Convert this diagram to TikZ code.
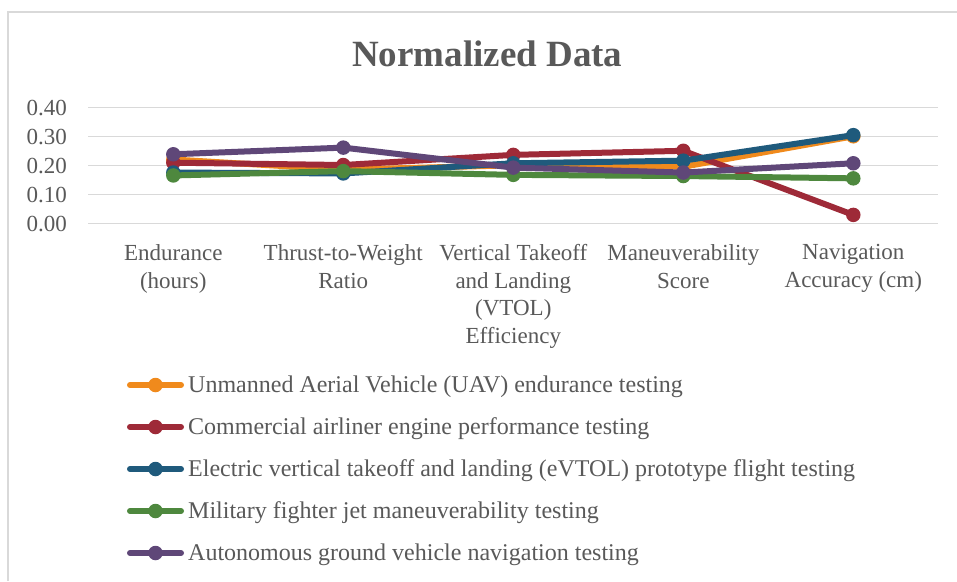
\documentclass[tikz,border=0pt]{standalone}
\usepackage{fontspec}
\setmainfont{Liberation Serif}
\definecolor{txt}{HTML}{595959}
\definecolor{gridc}{HTML}{D9D9D9}
\definecolor{cuav}{HTML}{F08A1C}
\definecolor{cair}{HTML}{9E2A38}
\definecolor{cevt}{HTML}{1F5A7C}
\definecolor{cmil}{HTML}{4E883E}
\definecolor{caut}{HTML}{5F4778}
\tikzset{
  series/.style={line width=6pt, line join=round},
  mk/.style={circle, inner sep=0pt, minimum size=14.5pt, fill=#1, draw=none},
  ticklab/.style={text=txt, anchor=base east, inner sep=0pt, font=\fontsize{23}{27.5}\selectfont},
  catlab/.style={text=txt, anchor=north, align=center, inner sep=0pt, font=\fontsize{23}{27.5}\selectfont},
  legtxt/.style={text=txt, anchor=base west, inner sep=0pt, font=\fontsize{24}{28}\selectfont},
  gridline/.style={draw=gridc, line width=1.3pt},
}
\begin{document}
\begin{tikzpicture}[x=1pt,y=-1pt]
\useasboundingbox (0,0) rectangle (957,581);
\fill[white] (0,0) rectangle (957,581);
% chart frame
\coordinate (fbl) at (8,581);
\coordinate (ftl) at (8,12);
\coordinate (ftr) at (957,12);
\draw[gridline] (fbl) -- (ftl) -- (ftr);
% title
\node[text=txt, anchor=base, inner sep=0pt, font=\fontsize{37}{40}\selectfont\bfseries] (title) at (487.2,66.7) {Normalized Data};
% grid and y labels
\foreach \v [count=\k] in {0.00,0.10,0.20,0.30,0.40} {
  \coordinate (gl\k) at (88,{223.3-290*\v});
  \coordinate (gr\k) at (938,{223.3-290*\v});
  \draw[gridline] (gl\k) -- (gr\k);
  \node[ticklab] (yl\k) at (67,{223.3-290*\v+7.8}) {\v};
}
% category labels
\node[catlab] (c1) at (173.3,244.5) {Endurance\\(hours)};
\node[catlab] (c2) at (343.3,244.5) {Thrust-to-Weight\\Ratio};
\node[catlab] (c3) at (513.3,244.5) {Vertical Takeoff\\and Landing\\(VTOL)\\Efficiency};
\node[catlab] (c4) at (683.3,244.5) {Maneuverability\\Score};
\node[catlab] (c5) at (853.3,244.5) {Navigation\\Accuracy (cm)};
% data points
\foreach \v [count=\i] in {0.22,0.185,0.20,0.195,0.30}
  \coordinate (u\i) at ({3.3+170*\i},{223.3-290*\v});
\foreach \v [count=\i] in {0.209,0.201,0.236,0.250,0.029}
  \coordinate (a\i) at ({3.3+170*\i},{223.3-290*\v});
\foreach \v [count=\i] in {0.175,0.172,0.207,0.216,0.304}
  \coordinate (e\i) at ({3.3+170*\i},{223.3-290*\v});
\foreach \v [count=\i] in {0.165,0.180,0.167,0.163,0.155}
  \coordinate (m\i) at ({3.3+170*\i},{223.3-290*\v});
\foreach \v [count=\i] in {0.238,0.261,0.192,0.175,0.207}
  \coordinate (g\i) at ({3.3+170*\i},{223.3-290*\v});
% series
\foreach \s/\c in {u/cuav,a/cair,e/cevt,m/cmil,g/caut} {
  \draw[series,\c] (\s1) -- (\s2) -- (\s3) -- (\s4) -- (\s5);
  \foreach \i in {1,...,5} \node[mk=\c] (mk\s\i) at (\s\i) {};
}
% legend
\foreach \t/\c [count=\r] in {
  {Unmanned Aerial Vehicle (UAV) endurance testing}/cuav,
  {Commercial airliner engine performance testing}/cair,
  {Electric vertical takeoff and landing (eVTOL) prototype flight testing}/cevt,
  {Military fighter jet maneuverability testing}/cmil,
  {Autonomous ground vehicle navigation testing}/caut} {
  \coordinate (la\r) at (130,{385+42*(\r-1)});
  \coordinate (lb\r) at (181,{385+42*(\r-1)});
  \draw[\c, line width=6pt, line cap=round] (la\r) -- (lb\r);
  \node[mk=\c] (lm\r) at (155.5,{385+42*(\r-1)}) {};
  \node[legtxt] (lt\r) at (188,{385+42*(\r-1)+7.8}) {\t};
}
\end{tikzpicture}
\end{document}
